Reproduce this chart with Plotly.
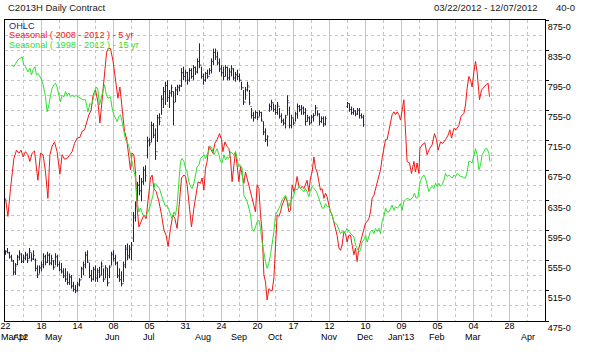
import plotly.graph_objects as go

# ---------------- axis labels ----------------
day_tick_idx = list(range(0, 271, 18))
day_tick_text = ["22", "18", "14", "08", "05", "31", "24", "20", "17", "12",
                 "10", "09", "05", "04", "28", "23"]
month_labels = ["Mar'12", "Apr", "May", "Jun", "Jul", "Aug", "Sep", "Oct",
                "Nov", "Dec", "Jan'13", "Feb", "Mar", "Apr"]
month_label_idx = [4.5, 7, 24, 53.5, 71.5, 98.5, 116.5, 135, 162, 180,
                   197.5, 215.5, 233.5, 261]
y_tick_vals = list(range(475, 876, 40))
y_tick_text = [f"{v}-0" for v in y_tick_vals]

# ---------------- OHLC (trading-day index) ----------------
ohlc_idx = list(range(0, 161)) + list(range(171, 180))
ohlc_high = [
    569, 572, 567, 563, 556, 552, 563, 569, 565, 563,
    567, 565, 572, 565, 569, 558, 549, 549, 554, 565,
    563, 567, 565, 563, 556, 565, 563, 554, 552, 545,
    545, 541, 538, 536, 527, 523, 527, 532, 547, 554,
    567, 569, 552, 543, 547, 549, 545, 547, 554, 545,
    549, 545, 549, 567, 569, 563, 554, 545, 541, 554,
    576, 578, 576, 580, 620, 634, 660, 669, 665, 680,
    682, 720, 718, 740, 738, 731, 749, 751, 775, 786,
    793, 795, 782, 789, 780, 786, 789, 789, 811, 813,
    809, 806, 811, 811, 815, 813, 824, 844, 813, 804,
    806, 809, 811, 824, 837, 837, 833, 824, 815, 813,
    815, 813, 811, 815, 811, 806, 809, 804, 793, 782,
    786, 793, 782, 758, 753, 755, 753, 755, 753, 740,
    731, 722, 764, 769, 764, 762, 766, 758, 751, 744,
    749, 775, 760, 749, 744, 753, 764, 762, 762, 760,
    758, 749, 747, 749, 751, 762, 755, 751, 747, 747, 747,
    766, 764, 760, 758, 755, 758, 758, 751, 749]
ohlc_low = [
    563, 565, 558, 554, 536, 536, 549, 556, 552, 552,
    556, 552, 558, 554, 556, 541, 532, 538, 541, 545,
    549, 552, 549, 549, 543, 549, 547, 541, 538, 532,
    527, 523, 523, 518, 514, 512, 514, 521, 532, 536,
    545, 552, 532, 527, 529, 527, 527, 532, 536, 527,
    532, 521, 532, 549, 554, 549, 532, 527, 521, 527,
    545, 556, 558, 556, 580, 607, 634, 642, 634, 656,
    660, 691, 707, 713, 718, 689, 713, 735, 749, 758,
    762, 766, 758, 773, 735, 766, 775, 780, 786, 795,
    793, 789, 793, 797, 795, 802, 804, 811, 797, 789,
    793, 797, 802, 804, 815, 822, 815, 806, 800, 795,
    800, 795, 795, 800, 795, 793, 795, 793, 782, 762,
    769, 780, 762, 744, 740, 744, 742, 747, 740, 722,
    713, 707, 753, 755, 753, 749, 749, 744, 738, 735,
    731, 749, 731, 731, 735, 740, 744, 753, 749, 749,
    735, 740, 735, 738, 740, 749, 747, 735, 738, 733, 735,
    758, 753, 749, 749, 747, 749, 744, 744, 733]
ohlc_open = [
    565, 568, 565, 560, 554, 540, 550, 560, 563, 555,
    558, 562, 558, 566, 558, 556, 545, 537, 545, 548,
    560, 553, 562, 552, 555, 547, 560, 550, 543, 540,
    535, 531, 526, 533, 522, 517, 515, 523, 530, 544,
    548, 562, 553, 535, 530, 543, 532, 540, 536, 548,
    531, 545, 526, 548, 563, 558, 552, 535, 530, 525,
    548, 570, 562, 570, 585, 612, 636, 655, 648, 660,
    675, 695, 714, 712, 735, 722, 700, 745, 745, 770,
    780, 788, 772, 778, 780, 766, 782, 785, 788, 805,
    800, 805, 795, 808, 800, 812, 806, 820, 815, 800,
    795, 804, 800, 808, 820, 832, 826, 818, 810, 805,
    800, 812, 798, 806, 810, 798, 802, 800, 795, 785,
    766, 782, 786, 760, 748, 745, 752, 746, 752, 740,
    726, 716, 755, 760, 765, 756, 752, 760, 747, 741,
    738, 748, 765, 735, 745, 738, 750, 760, 756, 758,
    752, 740, 745, 738, 746, 748, 758, 750, 740, 744, 737,
    760, 764, 756, 752, 754, 750, 755, 748, 746]
ohlc_close = [
    567, 566, 560, 556, 540, 548, 560, 565, 554, 560,
    563, 555, 568, 557, 562, 545, 536, 546, 550, 561,
    553, 563, 552, 558, 546, 561, 550, 543, 541, 535,
    530, 526, 534, 521, 517, 515, 524, 529, 545, 550,
    563, 555, 535, 531, 544, 532, 542, 535, 551, 530,
    546, 525, 546, 564, 558, 552, 535, 530, 524, 550,
    572, 560, 572, 576, 615, 628, 656, 648, 660, 676,
    668, 715, 710, 735, 722, 695, 745, 740, 770, 780,
    788, 772, 778, 785, 765, 782, 786, 787, 805, 800,
    805, 795, 808, 800, 812, 806, 820, 815, 800, 795,
    804, 800, 808, 820, 832, 826, 818, 810, 805, 800,
    812, 798, 806, 810, 798, 802, 800, 795, 785, 766,
    782, 788, 765, 748, 745, 752, 746, 752, 742, 726,
    716, 720, 760, 765, 756, 752, 762, 747, 741, 738,
    745, 768, 735, 745, 738, 750, 760, 756, 758, 752,
    740, 745, 738, 746, 748, 758, 750, 740, 744, 737, 744,
    764, 756, 752, 754, 750, 755, 748, 746, 736]

# ---------------- Seasonal 5 yr (red) ----------------
red_idx = [
    0, 1.2, 2.5, 4.2, 5.5, 6.7, 7.8, 8.8, 10, 11.2,
    12.2, 13.3, 14.5, 16.2, 17.5, 18.8, 20, 21.2, 22.2, 23.3,
    24.5, 25.8, 27.2, 28.3, 29.5, 30.8, 32.2, 33.3, 34.5, 35.8,
    37.2, 38.3, 39.5, 40.5, 41.7, 42.8, 43.8, 45, 46.2, 47.2,
    48.3, 49.5, 50.5, 51.2, 52.5, 53.8, 55, 56.2, 57.2, 58.3,
    59.5, 60.5, 61.7, 62.5, 63.3, 64.2, 65, 65.8, 66.7,
    68, 69.2, 70.3, 71.3, 72.5, 73.3, 74.2, 75.3, 76.7, 78,
    79.2, 80.3, 81.3, 82.5, 83.7, 84.7, 85.8, 87, 88, 89.2,
    90, 90.8, 92, 93, 94.2, 95, 96.3, 97.5, 98.3, 99.2,
    100, 100.8, 101.7, 102.5, 103.7, 104.7, 105.8, 107, 108, 108.7,
    109.7, 110.8, 111.7, 112.5, 113.3, 114.2, 115, 115.8, 116.7, 117.5,
    118.3, 119.2, 120, 120.8, 121.7, 122.5, 123.3, 124.2, 125, 125.8,
    126.7, 127.5, 128.3, 129.2, 130, 130.8, 131.7, 132.5,
    133.3, 134.2, 135, 135.8, 136.7, 137.5, 138.3, 139.2, 140, 140.8,
    141.7, 142.5, 143.3, 144.2, 145, 145.8, 146.7, 147.5, 148.3, 149.2,
    150, 150.8, 151.7, 152.5, 153.3, 154.2, 155, 155.8, 156.7, 157.5,
    158.3, 159.2, 160, 160.8, 161.7, 162.5, 163.3, 164.2, 165, 165.8,
    166.7, 167.5, 168.3, 169.2, 170, 170.8, 171.7, 172.5, 173.3, 174.2,
    175, 175.8, 176.7, 177.5, 178.3, 179.2, 180, 180.8, 181.7, 182.5,
    183.3, 184.2, 185, 185.8, 186.7, 187.5, 188.3, 189.2, 190, 190.8,
    191.7, 192.5, 193.3, 194.2, 195, 195.8, 196.7, 197.5, 198.3, 199.2,
    200.8, 202, 203, 204.2, 205, 205.8, 206.7, 207.2, 208.3, 209.7,
    210.8, 212, 213.3, 214.5, 215.5, 216.3, 217.5, 218.7, 220, 221.3,
    222.2, 223, 224.2, 225.3, 226.7, 227.8, 229.2, 230, 230.8, 231.7,
    232.5, 233.3, 234.2, 235, 235.8, 236.3, 237, 238, 239.2, 240.3,
    241.3, 242]
red_val = [
    638, 614, 651, 691, 702, 698, 702, 693, 700, 696,
    687, 698, 701, 662, 698, 696, 673, 638, 696, 707,
    713, 700, 670, 696, 690, 691, 696, 700, 711, 718,
    719, 727, 729, 740, 749, 755, 775, 782, 766, 738,
    771, 811, 831, 837, 837, 820, 797, 771, 786, 758,
    727, 718, 691, 676, 698, 696, 673, 625, 600,
    609, 616, 611, 634, 665, 669, 651, 647, 634, 616,
    596, 589, 574, 598, 616, 611, 598, 634, 665, 669,
    667, 656, 625, 600, 625, 640, 660, 658, 665, 649,
    678, 687, 707, 704, 698, 711, 716, 724, 716, 700,
    713, 707, 704, 691, 660, 682, 700, 682, 660, 680,
    667, 658, 673, 665, 656, 647, 638, 629, 620, 656,
    651, 616, 594, 536, 527, 503, 518, 516,
    515, 532, 572, 616, 614, 620, 629, 636, 640, 634,
    620, 622, 656, 647, 654, 667, 654, 651, 654, 651,
    656, 662, 647, 665, 673, 693, 678, 673, 660, 649,
    651, 638, 645, 640, 629, 620, 616, 607, 598, 589,
    572, 569, 576, 594, 591, 580, 589, 589, 576, 563,
    572, 554, 572, 580, 587, 598, 605, 607, 611, 620,
    638, 642, 651, 656, 667, 676, 691, 704, 716, 716,
    727, 735, 749, 753, 749, 753, 749, 742, 758, 769,
    687, 685, 671, 687, 673, 685, 671, 704, 709, 712,
    696, 704, 709, 724, 716, 702, 713, 711, 716, 722,
    729, 718, 731, 729, 735, 747, 751, 762, 784, 800,
    795, 786, 806, 820, 806, 789, 769, 782, 786, 789,
    791, 773]

# ---------------- Seasonal 15 yr (green) ----------------
green_idx = [
    3, 4.2, 5, 6.2, 7.2, 8.3, 9.2, 10, 11.2, 12.2,
    13, 13.8, 14.7, 15.5, 16.3, 17.2, 17.8, 18.8, 20, 20.8,
    21.7, 22.5, 23.3, 24.2, 25, 25.8, 26.7, 27.5, 28.3, 29.2,
    30, 30.8, 31.7, 32.5, 33.3, 34.2, 35, 36.2, 37.5, 38.8,
    40, 41.2, 42.2, 43, 43.8, 44.7, 45.5, 46.2, 47, 47.8,
    48.7, 49.5, 50.5, 51.3, 52.5, 53.3, 54.2, 55, 55.8, 56.7,
    57.5, 58.3, 59.2, 60, 60.8, 61.7, 62.5, 63.3, 64.2, 65,
    65.8, 66.7,
    67.5, 68.7, 70, 71.3, 72.5, 73.7, 74.7, 75.8, 77, 78,
    79.2, 80, 80.8, 81.7, 82.5, 83.3, 84.2, 85, 85.8, 86.7,
    87.5, 88.3, 89.2, 90, 90.8, 91.7, 92.5, 93.3, 94.2, 95,
    95.8, 96.7, 97.5, 98.3, 99.2, 100, 100.8, 101.7, 102.5, 103.3,
    104.2, 105, 105.8, 106.7, 107.5, 108.3, 109.2, 110, 110.8, 111.7,
    112.5, 113.3, 114.2, 115, 115.8, 116.7, 117.5, 118.3, 119.2, 120,
    120.8, 121.7, 122.5, 123.3, 124.2, 125, 125.8, 126.7, 127.5, 128.3,
    129.2, 130, 130.8, 131.7, 132.5, 133.3,
    134.2, 135, 135.8, 136.7, 137.5, 138.3, 139.2, 140, 140.8, 141.7,
    142.5, 143.3, 144.2, 145, 145.8, 146.7, 147.5, 148.3, 149.2, 150,
    150.8, 151.7, 152.5, 153.3, 154.2, 155, 155.8, 156.7, 157.5, 158.3,
    159.2, 160, 160.8, 161.7, 162.5, 163.3, 164.2, 165, 165.8, 166.7,
    167.5, 168.3, 169.2, 170, 170.8, 171.7, 172.5, 173.3, 174.2, 175,
    175.8, 176.7, 177.5, 178.3, 179.2, 180, 180.8, 181.7, 182.5, 183.3,
    184.2, 185, 185.8, 186.7, 187.5, 188.3, 189.2, 190, 190.8, 191.7,
    192.5, 193.3, 194.2, 195, 195.8, 196.7, 197.5, 198.3, 199.2, 200,
    200.8,
    202.5, 203.7, 204.5, 205.3, 206.3, 207, 208, 209.2, 210, 210.8,
    211.7, 212.5, 213.3, 214.2, 215, 215.8, 216.7, 217.5, 218.3, 219.2,
    220, 220.8, 221.7, 222.5, 223.3, 224.2, 225, 225.8, 226.7, 227.5,
    228.3, 229.2, 230, 230.8, 231.7, 232.5, 233.3, 234.2, 235, 235.8,
    236.7, 237.5, 238.3, 239.2, 240, 240.8, 241.7, 242.2]
green_val = [
    815, 813, 817, 822, 824, 826, 815, 813, 806, 811,
    802, 809, 813, 802, 804, 800, 797, 789, 773, 753,
    762, 775, 784, 789, 791, 786, 773, 766, 775, 773,
    780, 775, 778, 773, 775, 773, 775, 773, 771, 769,
    769, 753, 764, 762, 769, 782, 786, 782, 762, 771,
    782, 789, 775, 771, 773, 758, 749, 744, 740, 747,
    749, 740, 729, 716, 713, 707, 696, 687, 678, 665,
    634, 620,
    625, 616, 614, 620, 629, 642, 658, 654, 651, 642,
    634, 627, 629, 622, 616, 611, 620, 616, 629, 660,
    687, 691, 687, 678, 673, 660, 654, 651, 658, 669,
    680, 682, 691, 693, 696, 691, 696, 702, 707, 704,
    696, 700, 704, 696, 687, 685, 696, 689, 693, 691,
    700, 698, 696, 700, 691, 680, 682, 678, 642, 638,
    634, 625, 616, 598, 594, 600, 607, 609, 598, 580,
    563, 554, 545, 552, 563, 576,
    594, 616, 620, 625, 629, 636, 640, 642, 636, 627,
    634, 638, 642, 651, 649, 654, 651, 649, 647, 651,
    647, 640, 649, 654, 651, 649, 645, 638, 629, 625,
    625, 631, 627, 627, 620, 616, 607, 605, 603, 596,
    591, 594, 591, 594, 598, 594, 591, 589, 587, 576,
    572, 567, 569, 580, 583, 589, 580, 589, 594, 596,
    591, 598, 594, 598, 591, 607, 614, 625, 620, 620,
    625, 629, 622, 627, 625, 627, 631, 622, 634, 636,
    638,
    636, 640, 645, 638, 640, 656, 665, 669, 665, 656,
    647, 651, 654, 651, 658, 654, 658, 654, 656, 662,
    671, 667, 669, 667, 665, 669, 667, 671, 669, 667,
    667, 665, 665, 673, 687, 687, 685, 696, 704, 696,
    676, 682, 696, 700, 704, 704, 698, 687]

assert len(ohlc_idx) == len(ohlc_high) == len(ohlc_low) == len(ohlc_open) == len(ohlc_close)
assert len(red_idx) == len(red_val), (len(red_idx), len(red_val))
assert len(green_idx) == len(green_val), (len(green_idx), len(green_val))

NAVY = "#1e1e7a"
RED = "#f01818"
GREEN = "#2ee02e"
FONT = "Liberation Sans, Arial, sans-serif"

fig = go.Figure()
fig.add_trace(go.Ohlc(
    x=ohlc_idx, open=ohlc_open, high=ohlc_high, low=ohlc_low, close=ohlc_close,
    increasing=dict(line=dict(color=NAVY, width=1)),
    decreasing=dict(line=dict(color=NAVY, width=1)),
    tickwidth=0.5, name="OHLC", showlegend=False, hoverinfo="skip"))
fig.add_trace(go.Scatter(
    x=red_idx, y=red_val, mode="lines", line=dict(color=RED, width=1),
    name="Seasonal ( 2008 - 2012 ) - 5 yr", showlegend=False, hoverinfo="skip"))
fig.add_trace(go.Scatter(
    x=green_idx, y=green_val, mode="lines", line=dict(color=GREEN, width=1),
    name="Seasonal ( 1998 - 2012 ) - 15 yr", showlegend=False, hoverinfo="skip"))

GRID = "#c4c4c4"
x_minor = [v + 9 for v in day_tick_idx[:-1]]
y_minor = [v + 20 for v in y_tick_vals[:-1]]

fig.update_layout(
    width=595, height=361,
    margin=dict(l=5, r=50, t=20, b=40, autoexpand=False),
    paper_bgcolor="white", plot_bgcolor="white",
    font=dict(family=FONT, size=9, color="black"),
    xaxis=dict(
        range=[-0.25, 269.75], tickmode="array", tickvals=day_tick_idx, ticktext=day_tick_text,
        showline=True, linecolor="black", linewidth=1, mirror=True,
        showgrid=True, gridcolor=GRID, gridwidth=1, zeroline=False,
        ticks="", automargin=False, ticklabelstandoff=-4,
        tickfont=dict(family=FONT, size=9, color="black"),
        minor=dict(tickmode="array", tickvals=x_minor, showgrid=True,
                   gridcolor=GRID, griddash="dot", ticks=""),
        rangeslider=dict(visible=False), fixedrange=True,
    ),
    yaxis=dict(
        range=[475, 875], side="right", tickmode="array",
        tickvals=y_tick_vals, ticktext=y_tick_text,
        showline=True, linecolor="black", linewidth=1, mirror=True,
        showgrid=True, gridcolor=GRID, gridwidth=1, griddash="dot", zeroline=False,
        ticks="outside", ticklen=3, tickcolor="black", automargin=False,
        ticklabelposition="outside bottom",
        tickfont=dict(family=FONT, size=9, color="black"),
        minor=dict(tickmode="array", tickvals=y_minor, showgrid=True,
                   gridcolor=GRID, griddash="dot", ticks=""),
        fixedrange=True,
    ),
)

annotations = []
for lab, xi in zip(month_labels, month_label_idx):
    annotations.append(dict(x=xi, y=0, xref="x", yref="paper", text=lab,
                            showarrow=False, xanchor="center", yanchor="middle",
                            yshift=-16, font=dict(family=FONT, size=9, color="black")))
# titles
annotations.append(dict(x=0, y=1, xref="paper", yref="paper", text="C2013H Daily Contract",
                        showarrow=False, xanchor="left", yanchor="middle", xshift=1, yshift=13,
                        font=dict(family=FONT, size=9.5, color="#202020")))
annotations.append(dict(x=1, y=1, xref="paper", yref="paper", text="03/22/2012 - 12/07/2012",
                        showarrow=False, xanchor="right", yanchor="middle", xshift=-5, yshift=13,
                        font=dict(family=FONT, size=9.5, color="#202020")))
annotations.append(dict(x=1, y=1, xref="paper", yref="paper", text="40-0",
                        showarrow=False, xanchor="left", yanchor="middle", xshift=9, yshift=13,
                        font=dict(family=FONT, size=9.5, color="#202020")))
# legend texts
legend_items = [("OHLC", NAVY), ("Seasonal ( 2008 - 2012 ) - 5 yr", RED),
                ("Seasonal ( 1998 - 2012 ) - 15 yr", GREEN)]
for i, (txt, col) in enumerate(legend_items):
    annotations.append(dict(x=0, y=1, xref="paper", yref="paper", text=txt,
                            showarrow=False, xanchor="left", yanchor="middle",
                            xshift=2, yshift=-6 - 9.3 * i,
                            font=dict(family=FONT, size=9.2, color=col)))
fig.update_layout(annotations=annotations)

fig.write_html("out.html", config={"displayModeBar": False, "staticPlot": True},
               post_script="document.body.style.margin='0';document.body.style.padding='0';")
